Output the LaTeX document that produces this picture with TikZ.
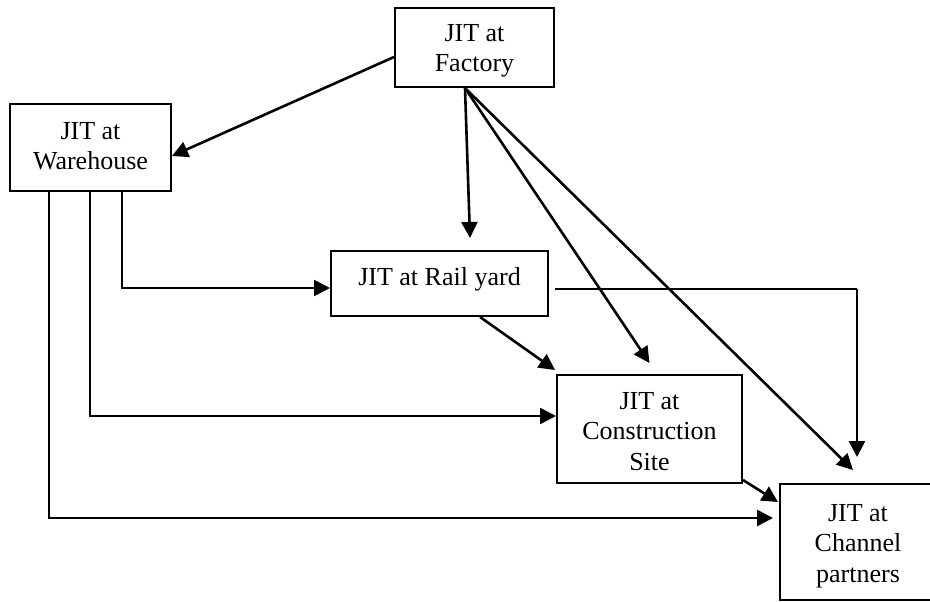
\documentclass[tikz,border=0pt]{standalone}
\usepackage{fontspec}
\setmainfont{Liberation Serif}
\usetikzlibrary{arrows.meta,calc}
\begin{document}
\begin{tikzpicture}[x=1pt,y=-1pt,
  box/.style={draw,line width=2.4pt,rectangle,inner sep=0pt},
  lbl/.style={anchor=north,inner sep=0pt,align=center,
    font=\fontsize{26}{30.5}\selectfont},
  conn/.style={line width=2.6pt,-{Triangle[length=16pt,width=16pt]}},
  thinline/.style={line width=1.4pt}]
\useasboundingbox (0,0) rectangle (930,602);
\clip (0,0) rectangle (930,602);
\node[box,minimum width=158.6pt,minimum height=78.6pt] (factory) at (474.5,47.5) {};
\node[box,minimum width=160.6pt,minimum height=86.6pt] (wh) at (90.5,147.5) {};
\node[box,minimum width=216.6pt,minimum height=64.6pt] (rail) at (439.5,283.5) {};
\node[box,minimum width=184.6pt,minimum height=107.6pt] (cons) at (649.5,429) {};
\node[box,minimum width=155.6pt,minimum height=115.6pt] (chan) at (858,542) {};
\node[lbl] (factoryt) at ([yshift=-17pt]factory.north) {JIT at\\Factory};
\node[lbl] (wht) at ([yshift=-19pt]wh.north) {JIT at\\Warehouse};
\node[lbl] (railt) at ([yshift=-17pt]rail.north) {JIT at Rail yard};
\node[lbl] (const) at ([yshift=-18pt]cons.north) {JIT at\\Construction\\Site};
\node[lbl] (chant) at ([yshift=-21pt]chan.north) {JIT at\\Channel\\partners};
% factory connectors
\coordinate (fo) at ([xshift=-9.5pt]factory.south);
\draw[conn] ([yshift=-9.5pt]factory.west) -- ([yshift=-8.5pt]wh.east);
\draw[conn] (fo) -- ([xshift=30.5pt,yshift=12pt]rail.north);
\draw[conn] (fo) -- ([yshift=11pt]cons.north);
\draw[conn] (fo) -- ([xshift=-5pt,yshift=13pt]chan.north);
% rail yard connectors
\coordinate (rs) at ([xshift=6pt,yshift=-5.5pt]rail.east);
\coordinate (rc) at ([xshift=-1pt]chan.north |- rs);
\draw[thinline] (rs) -- (rc);
\draw[conn] (rc) -- ([xshift=-1pt,yshift=26pt]chan.north);
\draw[conn] ([xshift=40.5pt]rail.south) -- ([xshift=-1pt,yshift=4pt]cons.north west);
% warehouse connectors
\draw[conn] ([xshift=31.5pt]wh.south) |- ([yshift=-4.5pt]rail.west);
\draw[conn] ([xshift=-0.5pt]wh.south) |- ([yshift=13pt]cons.west);
\draw[conn] ([xshift=-41.5pt]wh.south) |- ([xshift=-6pt,yshift=24pt]chan.west);
% construction to channel
\draw[conn] ([yshift=4pt]cons.south east) -- ([xshift=-1pt,yshift=-19pt]chan.north west);
\end{tikzpicture}
\end{document}
